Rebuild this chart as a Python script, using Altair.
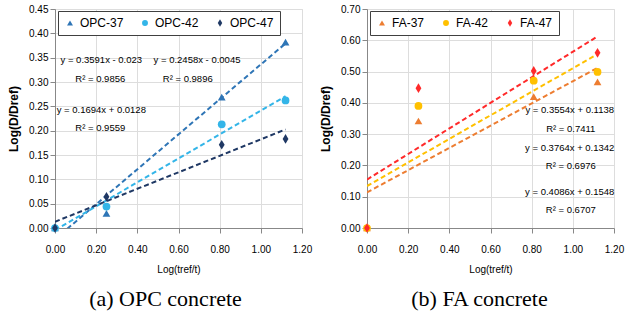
import altair as alt
import pandas as pd

# ---------------- data ----------------
x_vals = [0.0, 0.25, 0.81, 1.12]

opc_names = ["OPC-37", "OPC-42", "OPC-47"]
opc_37 = [0.0, 0.030, 0.269, 0.382]
opc_42 = [0.0, 0.044, 0.213, 0.262]
opc_47 = [0.0, 0.064, 0.171, 0.183]
opc_slopes = [0.3591, 0.2458, 0.1694]
opc_intercepts = [-0.023, -0.0045, 0.0128]
opc_r2 = ["0.9856", "0.9896", "0.9559"]
opc_eq = ["y = 0.3591x - 0.023", "y = 0.2458x - 0.0045", "y = 0.1694x + 0.0128"]

fa_names = ["FA-37", "FA-42", "FA-47"]
fa_37 = [0.0, 0.342, 0.420, 0.467]
fa_42 = [0.0, 0.390, 0.471, 0.499]
fa_47 = [0.0, 0.447, 0.502, 0.560]
fa_slopes = [0.3554, 0.3764, 0.4086]
fa_intercepts = [0.1138, 0.1342, 0.1548]
fa_r2 = ["0.7411", "0.6976", "0.6707"]
fa_eq = ["y = 0.3554x + 0.1138", "y = 0.3764x + 0.1342", "y = 0.4086x + 0.1548"]

# label anchor points (data coordinates) for the trend-line equations
opc_eq_x = [0.225, 0.69, 0.225]
opc_r2_x = [0.22, 0.645, 0.22]
opc_eq_y = [0.345, 0.345, 0.242]
opc_r2_y = [0.307, 0.307, 0.205]
fa_eq_x = [0.985, 0.985, 0.985]
fa_r2_x = [0.99, 0.99, 0.99]
fa_eq_y = [0.376, 0.255, 0.114]
fa_r2_y = [0.318, 0.199, 0.057]

# ---------------- styles ----------------
FONT = "Liberation Sans, Arial, sans-serif"
SERIF = "Liberation Serif, Times New Roman, serif"
opc_colors = ["#2E75B6", "#33B5E8", "#1F3864"]
fa_colors = ["#ED7D31", "#FFC000", "#FF2A2A"]
DIAMOND = "M0,-1.25L0.75,0L0,1.25L-0.75,0Z"
shapes = ["triangle-up", "circle", DIAMOND]


def panel(names, series, slopes, intercepts, eqs, r2s, eq_x, r2_x, eq_y, r2_y,
          colors, ymax, ystep, caption, cap_dx):
    rows = []
    for n, ys in zip(names, series):
        for xv, yv in zip(x_vals, ys):
            rows.append({"series": n, "x": xv, "y": yv})
    pts = pd.DataFrame(rows)

    trows = []
    for ex, rx, ey, ry, e, r in zip(eq_x, r2_x, eq_y, r2_y, eqs, r2s):
        trows.append({"x": ex, "y": ey, "t": e})
        trows.append({"x": rx, "y": ry, "t": "R\u00b2 = " + r})
    texts = pd.DataFrame(trows)

    nticks = int(round(ymax / ystep))
    yvals = [round(i * ystep, 2) for i in range(nticks + 1)]
    xscale = alt.Scale(domain=[0, 1.2], nice=False, zero=False)
    yscale = alt.Scale(domain=[0, ymax], nice=False, zero=False)
    xaxis = alt.Axis(values=[0, 0.2, 0.4, 0.6, 0.8, 1.0, 1.2], format=".2f",
                     title="Log(tref/t)", titleFontSize=10, titleFontWeight="normal",
                     titleFont=FONT, titlePadding=10, labelPadding=11,
                     labelFlush=False, labelOverlap=False)
    yaxis = alt.Axis(values=yvals, format=".2f", title="Log(D/Dref)",
                     titleFontSize=12, titleFontWeight="bold", titleFont=FONT,
                     titlePadding=8, labelFlush=False, labelOverlap=False)
    X = alt.X("x:Q", scale=xscale, axis=xaxis)
    Y = alt.Y("y:Q", scale=yscale, axis=yaxis)

    leg = alt.Legend(title=None, orient="none", legendX=3, legendY=2,
                     direction="horizontal", fillColor="white",
                     strokeColor="#404040", padding=6, labelFont=FONT,
                     labelFontSize=12, labelFontWeight="normal", symbolSize=35,
                     columnPadding=15, symbolStrokeWidth=0, labelOffset=4)

    layers = []
    for n, m, b, c in zip(names, slopes, intercepts, colors):
        ldf = pd.DataFrame({"x": [0.0, x_vals[-1]]})
        ldf["y"] = m * ldf["x"] + b
        layers.append(
            alt.Chart(ldf).mark_line(strokeDash=[5, 3], strokeWidth=2, clip=True,
                                     color=c).encode(x=X, y=Y)
        )
    pt_layer = alt.Chart(pts).mark_point(filled=True, opacity=1, size=60).encode(
        x=X, y=Y,
        color=alt.Color("series:N", scale=alt.Scale(domain=names, range=colors), legend=leg),
        shape=alt.Shape("series:N", scale=alt.Scale(domain=names, range=shapes), legend=leg),
    )
    txt_layer = alt.Chart(texts).mark_text(
        font=FONT, fontSize=9.5, color="black", align="center", baseline="middle"
    ).encode(x=X, y=Y, text="t:N")
    layers += [pt_layer, txt_layer]
    return alt.layer(*layers).properties(
        width=247, height=219,
        title=alt.TitleParams(caption, orient="bottom", font=SERIF, fontSize=22,
                              fontWeight="normal", color="black", anchor="middle",
                              frame="group", dx=cap_dx, offset=15),
    )


left = panel(opc_names, [opc_37, opc_42, opc_47], opc_slopes, opc_intercepts,
             opc_eq, opc_r2, opc_eq_x, opc_r2_x, opc_eq_y, opc_r2_y, opc_colors,
             0.45, 0.05, "(a) OPC concrete", -13)
right = panel(fa_names, [fa_37, fa_42, fa_47], fa_slopes, fa_intercepts,
              fa_eq, fa_r2, fa_eq_x, fa_r2_x, fa_eq_y, fa_r2_y, fa_colors,
              0.70, 0.10, "(b) FA concrete", -11)

chart = alt.hconcat(left, right, spacing=6).resolve_scale(
    color="independent", shape="independent", x="independent", y="independent"
).resolve_legend(color="independent", shape="independent").properties(
    padding={"left": 7, "top": 3, "right": 2, "bottom": 2}
).configure_view(
    stroke="#595959", strokeWidth=1
).configure_axis(
    labelFont=FONT, labelFontSize=11, labelFontWeight="bold", labelColor="black",
    domainColor="black", domainWidth=1, gridColor="#d9d9d9", ticks=False,
    labelPadding=5, titleColor="black"
).configure(background="white")

chart.save("out.html", embed_options={"renderer": "svg", "actions": False})
